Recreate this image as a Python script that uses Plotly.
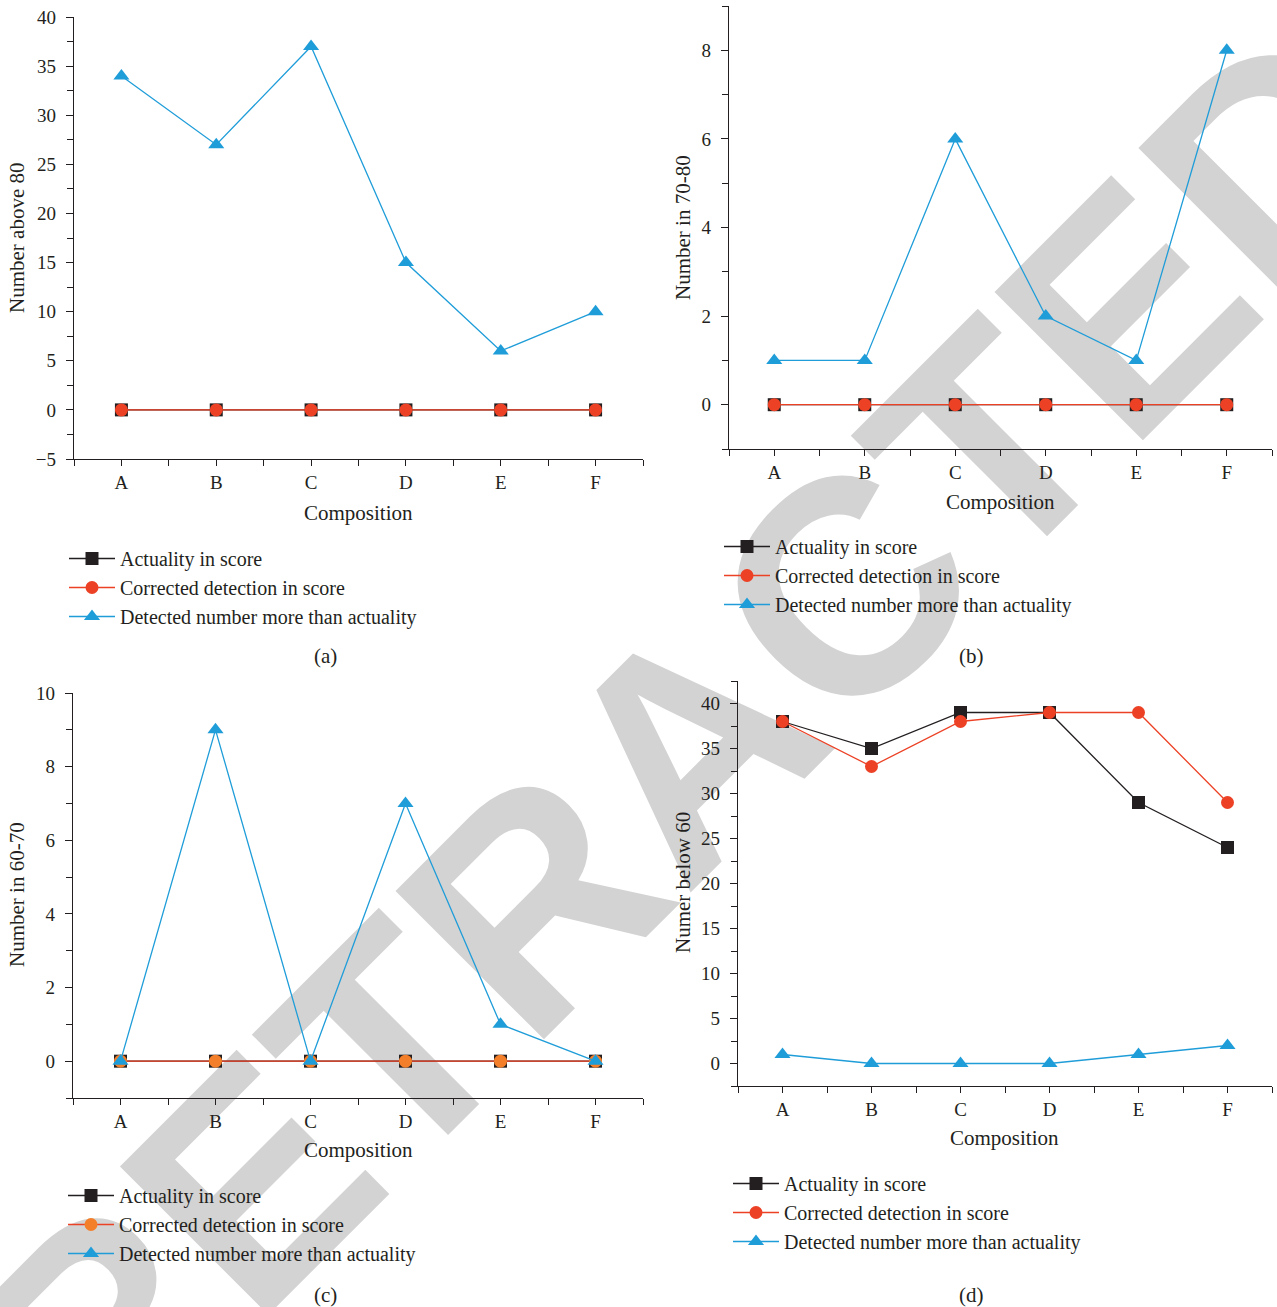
import plotly.graph_objects as go

# ---------------- data ----------------
CATEGORIES = ["A", "B", "C", "D", "E", "F"]
SERIES_NAMES = ["Actuality in score", "Corrected detection in score", "Detected number more than actuality"]

a_actuality = [0, 0, 0, 0, 0, 0]
a_corrected = [0, 0, 0, 0, 0, 0]
a_detected_more = [34, 27, 37, 15, 6, 10]

b_actuality = [0, 0, 0, 0, 0, 0]
b_corrected = [0, 0, 0, 0, 0, 0]
b_detected_more = [1, 1, 6, 2, 1, 8]

c_actuality = [0, 0, 0, 0, 0, 0]
c_corrected = [0, 0, 0, 0, 0, 0]
c_detected_more = [0, 9, 0, 7, 1, 0]

d_actuality = [38, 35, 39, 39, 29, 24]
d_corrected = [38, 33, 38, 39, 39, 29]
d_detected_more = [1, 0, 0, 0, 1, 2]

Y_TITLES = ["Number above 80", "Number in 70-80", "Number in 60-70", "Numer below 60"]
PANEL_LABELS = ["(a)", "(b)", "(c)", "(d)"]

# ---------------- style ----------------
W, H = 1277, 1307
INK = "#231f20"
BLACK = "#231f20"
RED = "#ec4125"
ORANGE = "#f37f2b"
BLUE = "#1f9dd9"
SERIF = "Liberation Serif"


def px(x):
    return x / W


def py(y):
    return 1 - y / H


xpos = list(range(len(CATEGORIES)))
bounds = [i - 0.5 for i in range(len(CATEGORIES) + 1)]

panels = [
    dict(act=a_actuality, cor=a_corrected, det=a_detected_more, cor_marker=RED,
         xd=(74, 643), yd=(459, 17), yr=(-5, 40), dtick=5, mdtick=2.5,
         legend="legend", leg=(64, 539), ytitle=(17, 238), xtitle=(358, 513), lab=(325, 656)),
    dict(act=b_actuality, cor=b_corrected, det=b_detected_more, cor_marker=RED,
         xd=(729, 1272), yd=(449, 6), yr=(-1, 9), dtick=2, mdtick=1,
         legend="legend2", leg=(719, 527), ytitle=(683, 228), xtitle=(1000, 502), lab=(971, 656)),
    dict(act=c_actuality, cor=c_corrected, det=c_detected_more, cor_marker=ORANGE,
         xd=(73, 643), yd=(1098, 693), yr=(-1, 10), dtick=2, mdtick=1,
         legend="legend3", leg=(63, 1176), ytitle=(17, 895), xtitle=(358, 1150), lab=(325, 1295)),
    dict(act=d_actuality, cor=d_corrected, det=d_detected_more, cor_marker=RED,
         xd=(738, 1272), yd=(1086, 681), yr=(-2.5, 42.5), dtick=5, mdtick=2.5,
         legend="legend4", leg=(728, 1164), ytitle=(683, 883), xtitle=(1004, 1138), lab=(971, 1295)),
]

fig = go.Figure()
annotations = []
layout_axes = {}

for i, p in enumerate(panels):
    n = "" if i == 0 else str(i + 1)
    xa, ya = "x" + n, "y" + n
    specs = [
        (p["act"], SERIES_NAMES[0], BLACK, BLACK, "square", 13),
        (p["cor"], SERIES_NAMES[1], RED, p["cor_marker"], "circle", 13),
        (p["det"], SERIES_NAMES[2], BLUE, BLUE, "triangle-up", 14),
    ]
    for vals, name, lc, mc, sym, size in specs:
        fig.add_trace(go.Scatter(
            x=xpos, y=vals, name=name, mode="lines+markers",
            line=dict(color=lc, width=1.3),
            marker=dict(color=mc, symbol=sym, size=size, line=dict(width=0)),
            xaxis=xa, yaxis=ya, legend=p["legend"], showlegend=True,
            hoverinfo="x+y+name",
        ))

    layout_axes["xaxis" + n] = dict(
        domain=[px(p["xd"][0]), px(p["xd"][1])], anchor=ya, automargin=False,
        range=[-0.5, len(CATEGORIES) - 0.5],
        tickmode="array", tickvals=xpos, ticktext=CATEGORIES,
        showline=True, linecolor=INK, linewidth=1.3,
        ticks="outside", ticklen=6, tickwidth=1.3, tickcolor=INK,
        minor=dict(tickmode="array", tickvals=bounds, ticks="outside", ticklen=6,
                   tickwidth=1.3, tickcolor=INK, showgrid=False),
        showgrid=False, zeroline=False, ticklabelstandoff=0,
        tickfont=dict(family=SERIF, size=19, color=INK), fixedrange=True,
    )
    layout_axes["yaxis" + n] = dict(
        domain=[py(p["yd"][0]), py(p["yd"][1])], anchor=xa, automargin=False,
        range=list(p["yr"]), tick0=0, dtick=p["dtick"],
        showline=True, linecolor=INK, linewidth=1.3,
        ticks="outside", ticklen=7, tickwidth=1.3, tickcolor=INK,
        minor=dict(tick0=0, dtick=p["mdtick"], ticks="outside", ticklen=6,
                   tickwidth=1.3, tickcolor=INK, showgrid=False),
        showgrid=False, zeroline=False, ticklabelstandoff=6,
        tickfont=dict(family=SERIF, size=19, color=INK), fixedrange=True,
    )
    layout_axes[p["legend"]] = dict(
        x=px(p["leg"][0]), y=py(p["leg"][1]), xanchor="left", yanchor="top",
        bgcolor="rgba(0,0,0,0)", borderwidth=0, itemwidth=46,
        font=dict(family=SERIF, size=20, color=INK), tracegroupgap=0,
        itemclick=False, itemdoubleclick=False,
    )
    common = dict(xref="paper", yref="paper", showarrow=False, xanchor="center", yanchor="middle",
                  font=dict(family=SERIF, size=21, color=INK))
    annotations.append(dict(text=Y_TITLES[i], x=px(p["ytitle"][0]), y=py(p["ytitle"][1]),
                            textangle=-90, **common))
    annotations.append(dict(text="Composition", x=px(p["xtitle"][0]), y=py(p["xtitle"][1]), **common))
    annotations.append(dict(text=PANEL_LABELS[i], x=px(p["lab"][0]), y=py(p["lab"][1]), **common))

# watermark centre (pixels)
WM_X, WM_Y = 668, 725
watermark = dict(
    type="line", xref="paper", yref="paper", layer="below",
    x0=px(WM_X - 1), y0=py(WM_Y + 1), x1=px(WM_X + 1), y1=py(WM_Y - 1),
    line=dict(color="rgba(0,0,0,0)", width=0),
    label=dict(text="RETRACTED", textposition="middle", yanchor="middle", textangle=-45,
               font=dict(family="Liberation Sans", size=305, color="#d3d3d3", weight="bold")),
)

fig.update_layout(
    width=W, height=H, margin=dict(l=0, r=0, t=0, b=0, autoexpand=False),
    paper_bgcolor="white", plot_bgcolor="rgba(0,0,0,0)",
    annotations=annotations, shapes=[watermark],
    **layout_axes,
)

fig.write_html("out.html", config={"displayModeBar": False},
               post_script="document.body.style.margin='0px';document.body.style.overflow='hidden';")
